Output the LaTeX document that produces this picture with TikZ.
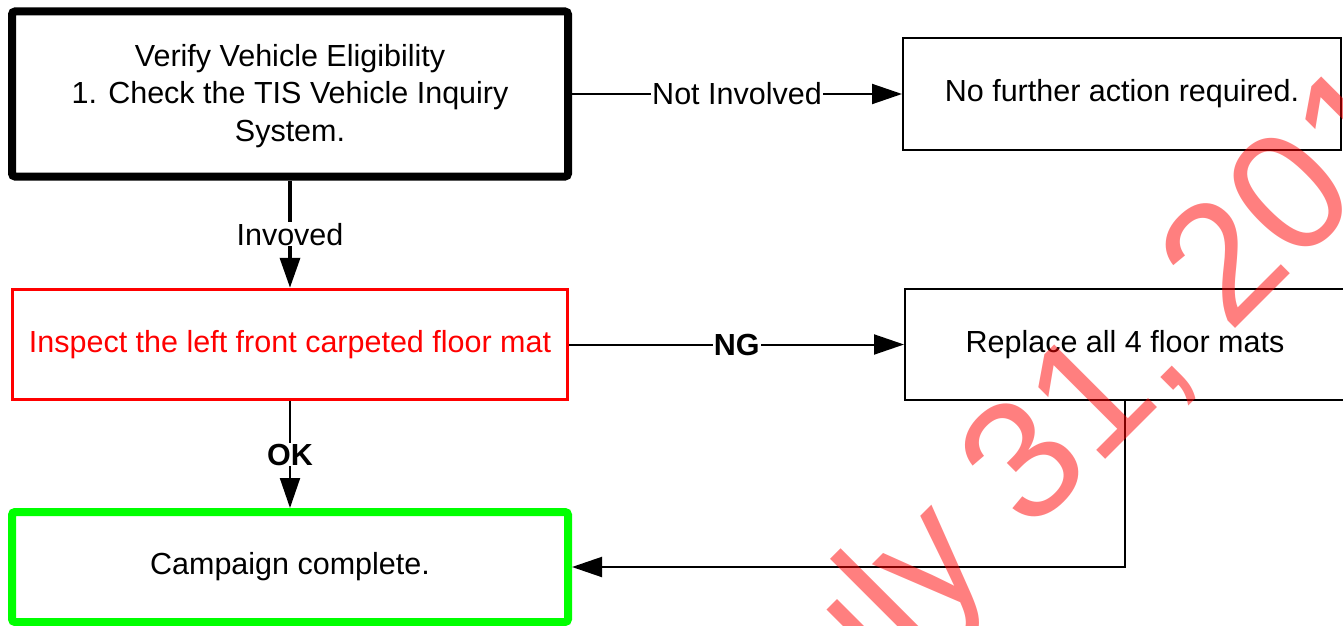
\documentclass[tikz,border=0pt]{standalone}
\usepackage{fontspec}
\setmainfont{Liberation Sans}
\usetikzlibrary{arrows.meta}
\definecolor{boxgreen}{RGB}{0,255,0}
\definecolor{boxred}{RGB}{255,0,0}
\begin{document}
\begin{tikzpicture}[x=1pt,y=-1pt,
  font=\fontsize{30.5}{37.5}\selectfont,
  box/.style={draw, line width=2pt, fill=white, inner sep=0pt, align=center},
  conn/.style={line width=2pt, -{Triangle[length=30pt,width=20pt]}},
  lbl/.style={fill=white, inner sep=1pt}]
\useasboundingbox (0,0) rectangle (1343,626);
\node[box, line width=8pt, rounded corners=3pt, minimum width=556pt, minimum height=165pt] (verify) at (290,94)
  {\strut Verify Vehicle Eligibility\\1. Check the TIS Vehicle Inquiry\\System.};
\node[box, minimum width=438pt, minimum height=112pt] (nofurther) at (1122,94) {No further action required.};
\node[box, draw=boxred, text=boxred, line width=3.5pt, minimum width=555pt, minimum height=110pt] (inspect) at (290,344.5)
  {Inspect the left front carpeted floor mat};
\node[box, minimum width=440pt, minimum height=111pt] (replace) at (1125,344.5) {Replace all 4 floor mats};
\node[box, draw=boxgreen, line width=8pt, rounded corners=3pt, minimum width=556pt, minimum height=110pt] (campaign) at (290,567)
  {\raisebox{-3pt}{Campaign complete.}};
\draw[conn] (verify.east) -- node[lbl] {Not Involved} (nofurther.west);
\draw[conn, line width=3.5pt] (verify.south) -- node[lbl] {Invoved} (inspect.north);
\draw[conn] (inspect.east) -- node[lbl, font=\fontsize{30.5}{37.5}\selectfont\bfseries] {NG} (replace.west);
\draw[conn] (inspect.south) -- node[lbl, font=\fontsize{30.5}{37.5}\selectfont\bfseries] {OK} (campaign.north);
\draw[conn] (replace.south) |- (campaign.east);
\begin{scope}
\clip (0,0) rectangle (1343,626);
\node[rotate=45, anchor=base west, text=red, text opacity=0.5, inner sep=0pt,
  font=\fontsize{170}{190}\selectfont] (wm) at (782,782) {July 31, 2019};
\end{scope}
\end{tikzpicture}
\end{document}
